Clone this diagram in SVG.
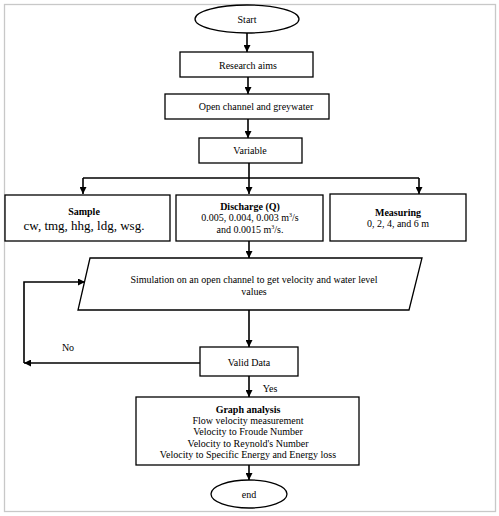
<svg xmlns="http://www.w3.org/2000/svg" width="499" height="516" viewBox="0 0 499 516">
<defs>
<marker id="ah" viewBox="0 0 10 10" refX="10" refY="5" markerWidth="7" markerHeight="7" markerUnits="userSpaceOnUse" orient="auto">
<path d="M0,0 L10,5 L0,10 z" fill="#000"/>
</marker>
</defs>
<style>
.n{fill:#fff;stroke:#000;stroke-width:1.3}
.c{fill:none;stroke:#000;stroke-width:1.6}
.a{marker-end:url(#ah)}
text{font-family:"Liberation Serif","Times New Roman",serif;font-size:10px;fill:#000;text-anchor:middle}
.b{font-weight:bold}
</style>
<rect x="0" y="0" width="499" height="516" fill="#fff"/>
<rect x="4.5" y="4.5" width="491" height="507" fill="none" stroke="#c8c8c8" stroke-width="1.3"/>
<g id="connectors">
<line class="c a" x1="247" y1="33" x2="247" y2="52"/>
<line class="c a" x1="248" y1="77" x2="248" y2="94"/>
<line class="c a" x1="248" y1="119" x2="248" y2="138"/>
<polyline class="c" points="249,163 249,178"/>
<line class="c" x1="83" y1="178" x2="419" y2="178"/>
<line class="c a" x1="83" y1="178" x2="83" y2="194"/>
<line class="c a" x1="249" y1="178" x2="249" y2="194"/>
<line class="c a" x1="419" y1="178" x2="419" y2="194"/>
<line class="c a" x1="249" y1="241" x2="249" y2="258"/>
<line class="c a" x1="249" y1="310" x2="249" y2="347"/>
<polyline class="c a" points="200,363 24,363"/>
<polyline class="c a" points="24,363 24,282 85,282"/>
<line class="c a" x1="249" y1="376" x2="249" y2="397"/>
<line class="c a" x1="249" y1="465" x2="249" y2="480"/>
</g>
<g id="start">
<ellipse class="n" cx="247" cy="19" rx="52" ry="14"/>
<text x="247" y="22.5">Start</text>
</g>
<g id="research">
<rect class="n" x="180" y="52" width="133" height="25"/>
<text x="248" y="69">Research aims</text>
</g>
<g id="openchannel">
<rect class="n" x="165" y="94" width="164" height="25"/>
<text x="256" y="110">Open channel and greywater</text>
</g>
<g id="variable">
<rect class="n" x="199" y="138" width="103" height="25"/>
<text x="250" y="154">Variable</text>
</g>
<g id="sample">
<rect class="n" x="5" y="195" width="165" height="46"/>
<text class="b" x="84" y="215">Sample</text>
<text x="84" y="230" style="font-size:13px">cw, tmg, hhg, ldg, wsg.</text>
</g>
<g id="discharge">
<rect class="n" x="176" y="195" width="147" height="46"/>
<text class="b" x="250" y="209.5">Discharge (Q)</text>
<text x="250" y="221">0.005, 0.004, 0.003 m<tspan font-size="6" dy="-4">3</tspan><tspan dy="4">/s</tspan></text>
<text x="250" y="232.5">and 0.0015 m<tspan font-size="6" dy="-4">3</tspan><tspan dy="4">/s.</tspan></text>
</g>
<g id="measuring">
<rect class="n" x="330" y="194" width="136" height="47"/>
<text class="b" x="398" y="215.5">Measuring</text>
<text x="398" y="226.5">0, 2, 4, and 6 m</text>
</g>
<g id="simulation">
<polygon class="n" points="90,258 422,258 409,310 78,310"/>
<text x="254" y="282.5">Simulation on an open channel to get velocity and water level</text>
<text x="254" y="294.5">values</text>
</g>
<g id="valid">
<rect class="n" x="200" y="347" width="98" height="29"/>
<text x="249" y="365.5">Valid Data</text>
</g>
<text x="68" y="350.5">No</text>
<text x="270" y="391.5">Yes</text>
<g id="graph">
<rect class="n" x="136" y="397" width="223" height="68"/>
<text class="b" x="248" y="412.5">Graph analysis</text>
<text x="248" y="423.5">Flow velocity measurement</text>
<text x="248" y="435">Velocity to Froude Number</text>
<text x="248" y="446.5">Velocity to Reynold's Number</text>
<text x="248" y="457.5">Velocity to Specific Energy and Energy loss</text>
</g>
<g id="end">
<ellipse class="n" cx="249" cy="494" rx="38" ry="14"/>
<text x="249" y="498">end</text>
</g>
</svg>
